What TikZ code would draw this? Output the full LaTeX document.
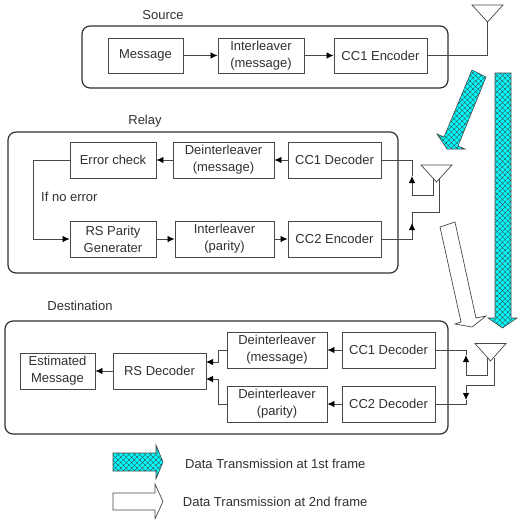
\documentclass[tikz,border=0pt]{standalone}
\usepackage{fontspec}
\setmainfont{Liberation Sans}
\usetikzlibrary{arrows.meta,patterns.meta}
\definecolor{ink}{HTML}{303030}
\definecolor{wirec}{HTML}{484848}
\definecolor{aqua}{HTML}{00FFFF}
\tikzset{
  blockbox/.style={draw=wirec,line width=.9pt,minimum width=#1,minimum height=36pt,inner sep=0pt,align=center,font=\fontsize{13}{17}\selectfont,text=ink},
  group/.style={draw=ink,line width=1.2pt,rounded corners=8pt},
  title/.style={font=\fontsize{13}{15}\selectfont,text=ink,inner sep=0pt},
  wire/.style={draw=wirec,line width=.8pt},
  tip/.style={wire,-{Latex[length=7pt,width=6.5pt,color=black]}},
  ant/.style={draw=wirec,line width=.7pt},
  hatched/.style={draw=wirec,line width=.6pt,preaction={fill=aqua},
    postaction={pattern={Lines[angle=45,distance=3.8pt,line width=.35pt]},pattern color=black!75},
    postaction={pattern={Lines[angle=-45,distance=3.8pt,line width=.35pt]},pattern color=black!75}},
  hollow/.style={draw=wirec,line width=.7pt,fill=white},
}
\begin{document}
\begin{tikzpicture}[x=1pt,y=-1pt]
\useasboundingbox (0,0) rectangle (517,519);
% containers
\draw[group] (82,26) rectangle (448,88);
\draw[group] (8,132) rectangle (398,273);
\draw[group] (5,321) rectangle (448,434);
% titles
\node[title] (tsrc) at (163,15) {Source};
\node[title] (trel) at (145,121) {Relay};
\node[title] (tdst) at (80,306) {Destination};
\node[title,anchor=west] (tno) at (41,196.5) {If no error};
% source
\node[blockbox=75pt,minimum height=35pt] (msg) at (145.5,55.5) {Message};
\node[blockbox=86pt,minimum height=35pt] (intm) at (261,55.5) {Interleaver\\(message)};
\node[blockbox=93pt,minimum height=35pt] (enc1) at (380.5,55.5) {CC1 Encoder};
% relay
\node[blockbox=86pt] (err) at (113,160) {Error check};
\node[blockbox=101pt] (dim) at (223.5,160) {Deinterleaver\\(message)};
\node[blockbox=93pt] (dec1) at (334.5,160) {CC1 Decoder};
\node[blockbox=86pt] (rsp) at (113,239) {RS Parity\\Generater};
\node[blockbox=99pt] (intp) at (224.5,239) {Interleaver\\(parity)};
\node[blockbox=93pt] (enc2) at (334.5,239) {CC2 Encoder};
% destination
\node[blockbox=75pt] (est) at (57.5,371) {Estimated\\Message};
\node[blockbox=93pt] (rsd) at (159.5,371) {RS Decoder};
\node[blockbox=100pt] (ddm) at (277,350) {Deinterleaver\\(message)};
\node[blockbox=100pt] (ddp) at (277,404) {Deinterleaver\\(parity)};
\node[blockbox=93pt] (ddec1) at (388.5,350) {CC1 Decoder};
\node[blockbox=93pt] (ddec2) at (388.5,404) {CC2 Decoder};
% block connectors
\draw[tip] (msg) -- (intm);
\draw[tip] (intm) -- (enc1);
\draw[tip] (dec1) -- (dim);
\draw[tip] (dim) -- (err);
\coordinate (b1) at (33,160);
\coordinate (b2) at (33,239);
\draw[tip] (err.west) -- (b1) -- (b2) -- (rsp.west);
\draw[tip] (rsp) -- (intp);
\draw[tip] (intp) -- (enc2);
\draw[tip] (ddec1) -- (ddm);
\draw[tip] (ddec2) -- (ddp);
\draw[tip] (rsd) -- (est);
\coordinate (c1) at (218,350);
\coordinate (c2) at (218,362);
\coordinate (c3) at (206,362);
\coordinate (c4) at (218,404);
\coordinate (c5) at (218,379);
\coordinate (c6) at (206,379);
\draw[tip] (ddm.west) -- (c1) -- (c2) -- (c3);
\draw[tip] (ddp.west) -- (c4) -- (c5) -- (c6);
% source antenna
\coordinate (sa1) at (472,5);
\coordinate (sa2) at (503,5);
\coordinate (sa3) at (487.5,22);
\coordinate (sa4) at (487.5,55.5);
\draw[ant] (sa1) -- (sa2) -- (sa3) -- cycle;
\draw[wire] (sa3) -- (sa4) -- (enc1.east);
% relay antenna
\coordinate (ra1) at (421,165);
\coordinate (ra2) at (452,165);
\coordinate (ra3) at (436.5,182);
\draw[ant] (ra1) -- (ra2) -- (ra3) -- cycle;
\coordinate (r1) at (433.5,179);
\coordinate (r2) at (433.5,195);
\coordinate (r3) at (412,195);
\coordinate (r4) at (412,176);
\coordinate (r5) at (412,160);
\draw[wire] (r1) -- (r2) -- (r3);
\draw[tip] (r3) -- (r4);
\draw[wire] (r4) -- (r5) -- (dec1.east);
\coordinate (r6) at (439.5,179);
\coordinate (r7) at (439.5,212);
\coordinate (r8) at (412,212);
\coordinate (r9) at (412,223);
\coordinate (r10) at (412,239);
\draw[wire] (r6) -- (r7) -- (r8) -- (r10) -- (enc2.east);
\draw[tip] (r10) -- (r9);
% destination antenna
\coordinate (da1) at (475,343.5);
\coordinate (da2) at (506,343.5);
\coordinate (da3) at (490.5,361);
\draw[ant] (da1) -- (da2) -- (da3) -- cycle;
\coordinate (d1) at (487.5,358);
\coordinate (d2) at (487.5,375);
\coordinate (d3) at (466,375);
\coordinate (d4) at (466,355);
\coordinate (d5) at (466,350);
\draw[wire] (d1) -- (d2) -- (d3);
\draw[tip] (d3) -- (d4);
\draw[wire] (d4) -- (d5) -- (ddec1.east);
\coordinate (d6) at (494,358);
\coordinate (d7) at (494,385);
\coordinate (d8) at (466,385);
\coordinate (d9) at (466,400);
\coordinate (d10) at (466,404);
\draw[wire] (d6) -- (d7) -- (d8);
\draw[tip] (d8) -- (d9);
\draw[wire] (d9) -- (d10) -- (ddec2.east);
% transmission arrows
\draw[hatched] (472,70) -- (486,77) -- (458,146) -- (465,149) -- (447,149) -- (437,134) -- (444,137) -- cycle;
\draw[hatched] (495,73) -- (511,73) -- (511,318) -- (517,318) -- (502.5,328) -- (488,318) -- (495,318) -- cycle;
\draw[hollow] (440,227) -- (455,222) -- (476,318) -- (486,316) -- (472,327) -- (455,324) -- (461,322) -- cycle;
% legend
\draw[hatched] (113,453) -- (156,453) -- (156,445) -- (163,462) -- (156,479) -- (156,471) -- (113,471) -- cycle;
\draw[hollow] (113,493) -- (155,493) -- (155,484) -- (163,501.5) -- (155,519) -- (155,510) -- (113,510) -- cycle;
\node[title,anchor=west] (l1) at (185,464) {Data Transmission at 1st frame};
\node[title,anchor=west] (l2) at (182.7,502) {Data Transmission at 2nd frame};
\end{tikzpicture}
\end{document}
